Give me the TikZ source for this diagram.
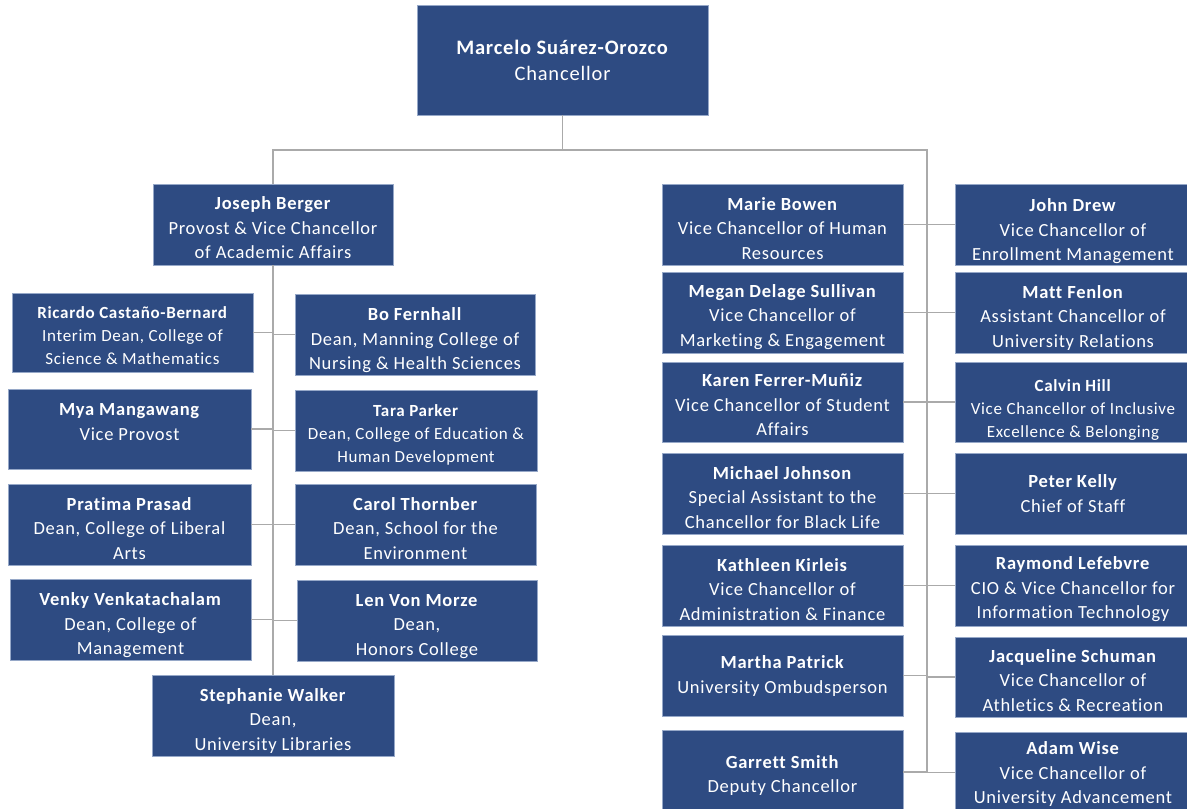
\documentclass[tikz,border=0pt]{standalone}
\usepackage{fontspec}
\setmainfont{Carlito}[LetterSpace=4, Ligatures=NoCommon]
\definecolor{boxblue}{RGB}{46,75,130}
\definecolor{boxedge}{RGB}{150,168,200}
\definecolor{conn}{RGB}{170,170,170}
\newcommand\nfont{\fontsize{18.5}{24.5}\selectfont}
\newcommand\sfont{\fontsize{17}{23}\selectfont}
\newcommand\cfont{\fontsize{20.5}{26}\selectfont}
\tikzset{
  orgbox/.style={draw=boxedge, line width=0.8pt, fill=boxblue, inner sep=0pt, outer sep=0pt, minimum width=241pt, minimum height=81pt},
  rbox/.style={orgbox, minimum width=236pt},
  ntext/.style={text=white, inner sep=0pt, align=center, font=\nfont},
  stext/.style={ntext, font=\sfont},
  ctext/.style={ntext, font=\cfont},
  link/.style={draw=conn, line width=1.5pt}
}
% \ob{box options}{name}{x}{y}{text style}{text drop}{text}
\newcommand\ob[7]{%
  \node[#1] (#2) at (#3,#4) {};
  \node[#5] (#2-t) at ([yshift=-#6pt]#2.center) {#7};}
\begin{document}
\begin{tikzpicture}[x=1pt,y=-1pt]
\useasboundingbox (0,0) rectangle (1187,809);
\clip (0,0) rectangle (1187,809);
% Chancellor
\ob{orgbox, minimum width=291pt, minimum height=110pt}{chan}{562.5}{60}{ctext}{0}{\textbf{Marcelo Suárez-Orozco}\\Chancellor}
% Left tree
\ob{orgbox, minimum width=240pt}{berger}{273}{224.5}{ntext}{3.5}{\textbf{Joseph Berger}\\Provost \& Vice Chancellor\\of Academic Affairs}
\ob{orgbox, minimum height=79pt}{ricardo}{132.5}{332.5}{stext}{3}{\textbf{Ricardo Castaño-Bernard}\\Interim Dean, College of\\Science \& Mathematics}
\ob{orgbox, minimum width=240pt}{bo}{415}{334.5}{ntext}{6}{\textbf{Bo Fernhall}\\Dean, Manning College of\\Nursing \& Health Sciences}
\ob{orgbox, minimum width=243pt, minimum height=80pt}{mya}{129.5}{429}{ntext}{-7}{\textbf{Mya Mangawang}\\Vice Provost}
\ob{orgbox, minimum width=242pt}{tara}{416}{430.5}{stext}{4}{\textbf{Tara Parker}\\Dean, College of Education \&\\Human Development}
\ob{orgbox, minimum width=243pt}{pratima}{129.5}{524.5}{ntext}{4}{\textbf{Pratima Prasad}\\Dean, College of Liberal\\Arts}
\ob{orgbox}{carol}{415.5}{524.5}{ntext}{4}{\textbf{Carol Thornber}\\Dean, School for the\\Environment}
\ob{orgbox}{venky}{130.5}{619.5}{ntext}{6}{\textbf{Venky Venkatachalam}\\Dean, College of\\Management}
\ob{orgbox, minimum width=240pt}{len}{417}{620.5}{ntext}{6}{\textbf{Len Von Morze}\\Dean,\\Honors College}
\ob{orgbox, minimum width=242pt}{walker}{273}{715.5}{ntext}{5}{\textbf{Stephanie Walker}\\Dean,\\University Libraries}
% Right tree, left column
\ob{orgbox}{bowen}{782.5}{224.5}{ntext}{4}{\textbf{Marie Bowen}\\Vice Chancellor of Human\\Resources}
\ob{orgbox}{megan}{782.5}{312.5}{ntext}{4.5}{\textbf{Megan Delage Sullivan}\\Vice Chancellor of\\Marketing \& Engagement}
\ob{orgbox, minimum height=80pt}{karen}{782.5}{402}{ntext}{3}{\textbf{Karen Ferrer-Muñiz}\\Vice Chancellor of Student\\Affairs}
\ob{orgbox}{johnson}{782.5}{493.5}{ntext}{4}{\textbf{Michael Johnson}\\Special Assistant to the\\Chancellor for Black Life}
\ob{orgbox}{kirleis}{782.5}{585.5}{ntext}{4}{\textbf{Kathleen Kirleis}\\Vice Chancellor of\\Administration \& Finance}
\ob{orgbox}{patrick}{782.5}{675.5}{ntext}{0.5}{\textbf{Martha Patrick}\\University Ombudsperson}
\ob{orgbox, minimum height=84pt}{smith}{782.5}{772}{ntext}{3.5}{\textbf{Garrett Smith}\\Deputy Chancellor}
% Right tree, right column
\ob{rbox}{drew}{1073}{224.5}{ntext}{7}{\textbf{John Drew}\\Vice Chancellor of\\Enrollment Management}
\ob{rbox}{fenlon}{1073}{312.5}{ntext}{5}{\textbf{Matt Fenlon}\\Assistant Chancellor of\\University Relations}
\ob{rbox, minimum height=80pt}{hill}{1073}{402}{stext}{7.5}{\textbf{Calvin Hill}\\Vice Chancellor of Inclusive\\Excellence \& Belonging}
\ob{rbox}{kelly}{1073}{493.5}{ntext}{0}{\textbf{Peter Kelly}\\Chief of Staff}
\ob{rbox}{lefebvre}{1073}{585.5}{ntext}{4}{\textbf{Raymond Lefebvre}\\CIO \& Vice Chancellor for\\Information Technology}
\ob{rbox, minimum height=80pt}{schuman}{1073}{677}{ntext}{3.5}{\textbf{Jacqueline Schuman}\\Vice Chancellor of\\Athletics \& Recreation}
\ob{rbox}{wise}{1073}{772.5}{ntext}{1.5}{\textbf{Adam Wise}\\Vice Chancellor of\\University Advancement}
% Connectors
\coordinate (jn) at (562.5,150);
\coordinate (rtop) at (927,150);
\coordinate (rbot) at (927,772.5);
\draw[link] (chan.south) -- (jn) -| (berger.north);
\draw[link] (jn) -- (rtop) -- (rbot);
\draw[link] (berger.south) -- (walker.north);
\foreach \n in {ricardo,mya,pratima,venky}{
  \draw[link] (\n.east) -- (\n.east -| berger.south);
}
\foreach \n in {bo,tara,carol,len}{
  \draw[link] (\n.west) -- (\n.west -| berger.south);
}
\foreach \n in {bowen,megan,karen,johnson,kirleis,patrick,smith}{
  \draw[link] (\n.east) -- (\n.east -| rtop);
}
\foreach \n in {drew,fenlon,hill,kelly,lefebvre,schuman,wise}{
  \draw[link] (\n.west) -- (\n.west -| rtop);
}
\end{tikzpicture}
\end{document}
